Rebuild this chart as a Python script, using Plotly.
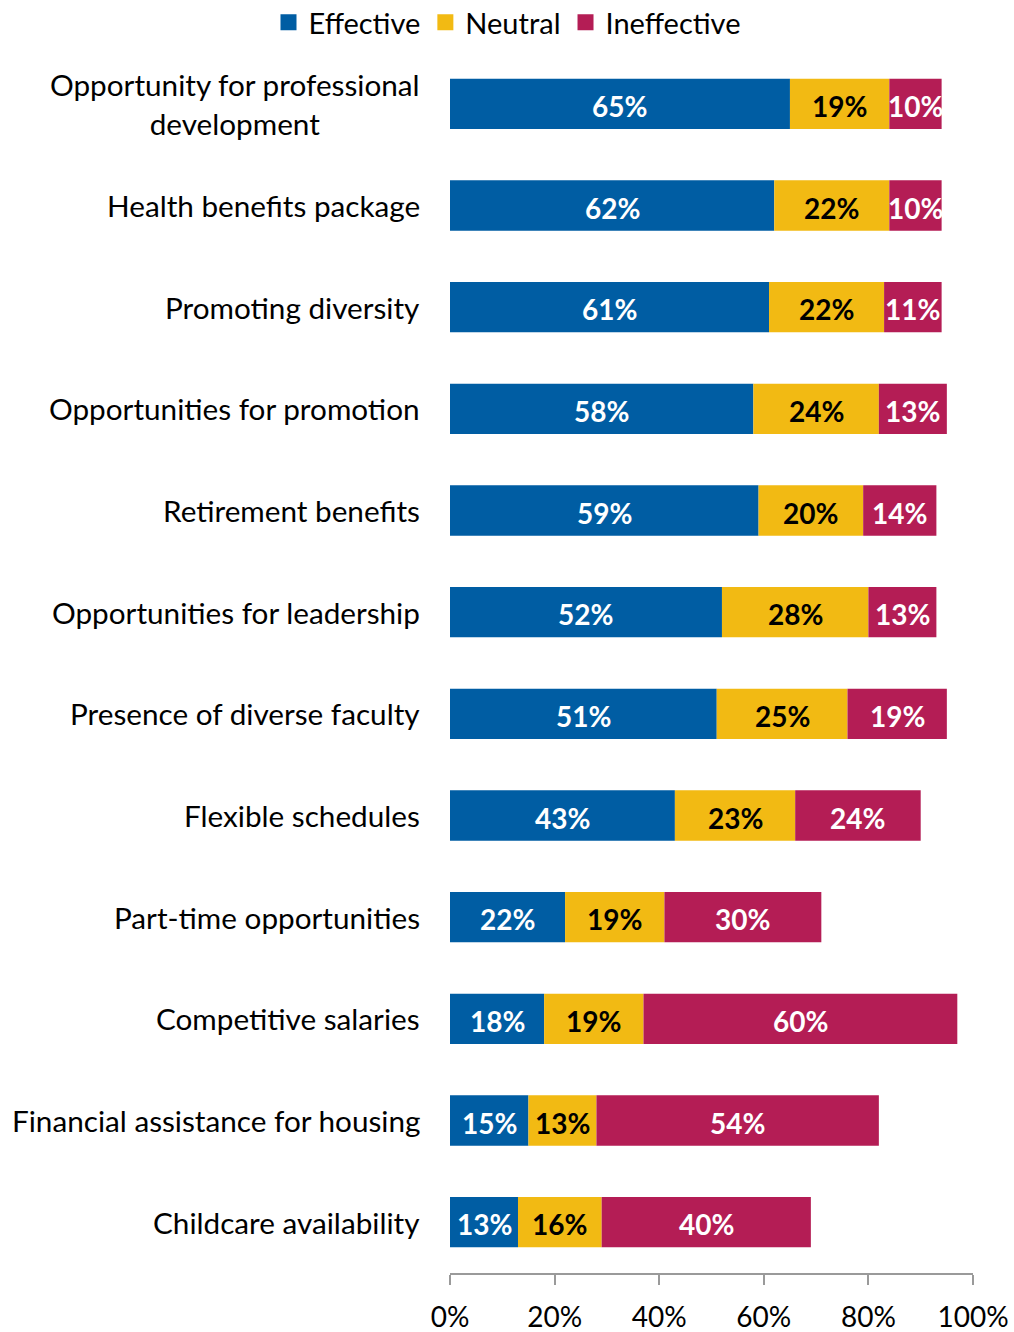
import plotly.graph_objects as go

# Survey results: perceived effectiveness of each institutional practice (%)
categories = [
    "Opportunity for professional<br>development",
    "Health benefits package",
    "Promoting diversity",
    "Opportunities for promotion",
    "Retirement benefits",
    "Opportunities for leadership",
    "Presence of diverse faculty",
    "Flexible schedules",
    "Part-time opportunities",
    "Competitive salaries",
    "Financial assistance for housing",
    "Childcare availability",
]
effective = [65, 62, 61, 58, 59, 52, 51, 43, 22, 18, 15, 13]
neutral = [19, 22, 22, 24, 20, 28, 25, 23, 19, 19, 13, 16]
ineffective = [10, 10, 11, 13, 14, 13, 19, 24, 30, 60, 54, 40]

series = [
    ("Effective", effective, "#005DA3", "white"),
    ("Neutral", neutral, "#F2BA13", "black"),
    ("Ineffective", ineffective, "#B41D55", "white"),
]

tick_vals = [0, 20, 40, 60, 80, 100]
tick_text = ["0%", "20%", "40%", "60%", "80%", "100%"]

FONT = "Lato, 'Open Sans', sans-serif"

fig = go.Figure()

bases = [0] * len(categories)
for name, vals, color, txtcolor in series:
    fig.add_trace(go.Bar(
        name=name, y=categories, x=vals, base=bases, orientation="h",
        marker=dict(color=color, line=dict(width=0)),
        hoverinfo="x+name", showlegend=False,
    ))
    # value labels centred on each segment
    for cat, b, v in zip(categories, bases, vals):
        fig.add_annotation(
            x=b + v / 2, xref="x", y=cat, yref="y", text=f"{v}%",
            showarrow=False, xanchor="center", yanchor="middle", yshift=-2,
            font=dict(family=FONT, size=28, color=txtcolor, weight="bold"),
        )
    # square legend key
    fig.add_trace(go.Scatter(
        name=name, x=[None], y=[None], mode="markers",
        marker=dict(symbol="square", size=18, color=color),
        showlegend=True,
    ))
    bases = [b + v for b, v in zip(bases, vals)]

# category labels, centred for multi-line names
for cat in categories:
    fig.add_annotation(
        x=0, xref="paper", y=cat, yref="y", text=cat, showarrow=False,
        xanchor="right", yanchor="middle", align="center", xshift=-28,
        font=dict(family=FONT, size=29.7, color="black"),
    )

fig.update_layout(
    width=1014, height=1332,
    margin=dict(l=450, r=41, t=53, b=59, autoexpand=False),
    paper_bgcolor="white", plot_bgcolor="white",
    barmode="overlay", bargap=0.505,
    font=dict(family=FONT, color="black"),
    legend=dict(
        orientation="h", xref="container", x=0.5, xanchor="center",
        yref="paper", y=1.046, yanchor="top",
        font=dict(family=FONT, size=29, color="black"),
        itemwidth=30, traceorder="normal",
    ),
    showlegend=True,
)
fig.update_yaxes(
    categoryorder="array", categoryarray=categories,
    range=[len(categories) - 0.5, -0.5], autorange=False,
    showticklabels=False, showline=False, showgrid=False, zeroline=False,
)
fig.update_xaxes(
    range=[0, 100], tickvals=tick_vals, ticktext=tick_text,
    showline=True, linecolor="#9A9A9A", linewidth=2,
    ticks="outside", ticklen=10, tickcolor="#9A9A9A", tickwidth=2,
    showgrid=False, zeroline=False, automargin=False,
    tickfont=dict(family=FONT, size=28, color="black"),
    ticklabelstandoff=8,
)

fig.write_html("out.html")
